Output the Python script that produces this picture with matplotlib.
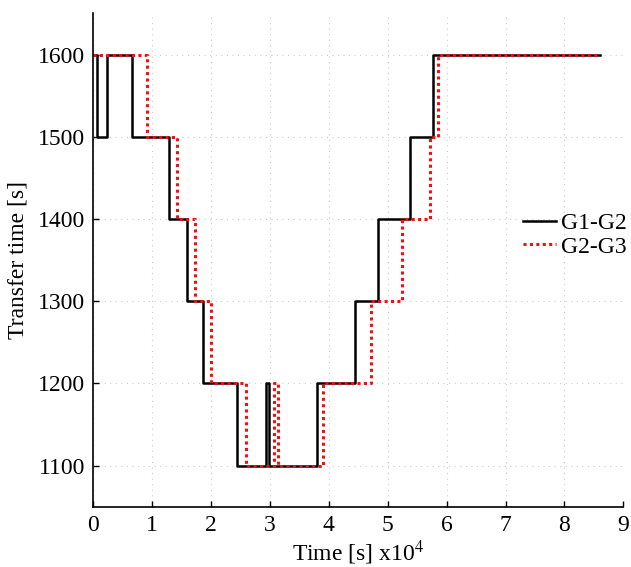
import matplotlib
matplotlib.use("Agg")
import matplotlib.pyplot as plt

# switching times (x1e4 s) and transfer time values [s]
t_g1g2 = [0, 0.06, 0.23, 0.65, 1.28, 1.59, 1.87, 2.44, 2.93, 2.99, 3.79,
          4.45, 4.84, 5.37, 5.77, 8.61]
v_g1g2 = [1600, 1500, 1600, 1500, 1400, 1300, 1200, 1100, 1200, 1100, 1200,
          1300, 1400, 1500, 1600, 1600]

t_g2g3 = [0, 0.91, 1.42, 1.72, 2.00, 2.60, 3.06, 3.14, 3.90, 4.72, 5.24,
          5.72, 5.85, 8.61]
v_g2g3 = [1600, 1500, 1400, 1300, 1200, 1100, 1200, 1100, 1200, 1300, 1400,
          1500, 1600, 1600]

x_ticks = list(range(0, 10))
y_ticks = [1100, 1200, 1300, 1400, 1500, 1600]

plt.rcParams["font.family"] = ["Liberation Serif", "DejaVu Serif"]
plt.rcParams["mathtext.fontset"] = "stix"
plt.rcParams["font.size"] = 17

fig = plt.figure(figsize=(6.31, 5.67), dpi=100)
ax = fig.add_axes([0.1479, 0.1063, 0.840, 0.870])

ax.plot(t_g1g2, v_g1g2, drawstyle="steps-post", color="black", lw=1.8,
        label="G1-G2")
ax.plot(t_g2g3, v_g2g3, drawstyle="steps-post", color="#ee1111", lw=2.2,
        ls=(0, (1, 1.1)), label="G2-G3")

ax.set_xlim(0, 9)
ax.set_ylim(1050, 1650)
ax.set_xticks(x_ticks)
ax.set_yticks(y_ticks)
ax.grid(True, color="#cccccc", ls=(0, (1, 4)), lw=0.8)
ax.tick_params(direction="in", length=4, width=1, labelsize=17, pad=6)

for s in ["top", "right"]:
    ax.spines[s].set_visible(False)
for s in ["left", "bottom"]:
    ax.spines[s].set_linewidth(1.2)

ax.set_xlabel("Time [s] x10$^4$", fontsize=17, labelpad=2)
ax.set_ylabel("Transfer time [s]", fontsize=17, labelpad=7)

ax.legend(loc="center left", bbox_to_anchor=(0.829, 0.5855),
          bbox_transform=fig.transFigure, frameon=False, borderpad=0,
          borderaxespad=0, handlelength=1.4, handletextpad=0.2,
          labelspacing=0.1, fontsize=17)

fig.savefig("out.png", dpi=100)
